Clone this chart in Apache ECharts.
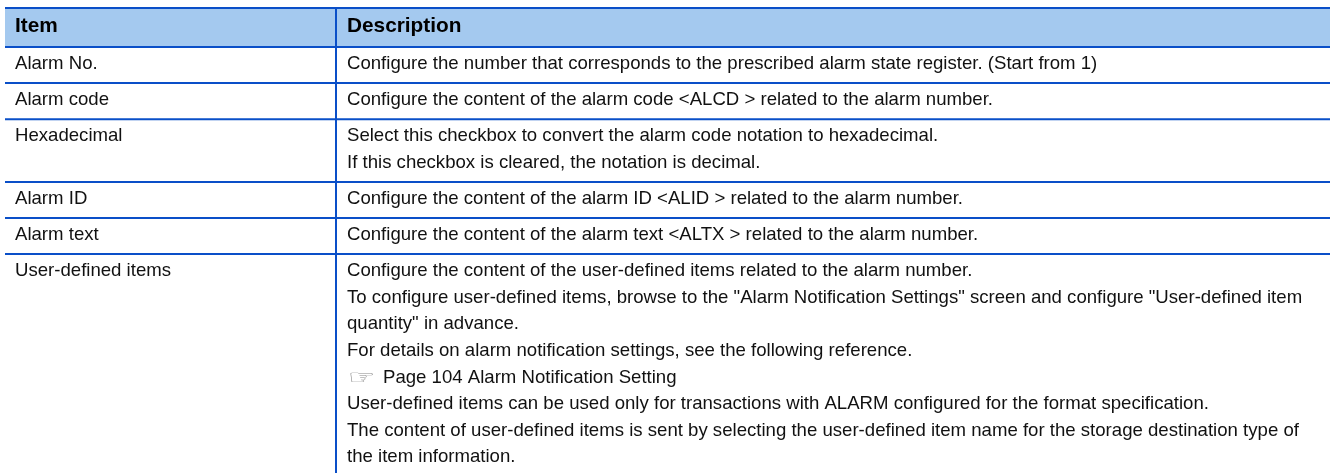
<!DOCTYPE html>
<html><head><meta charset="utf-8">
<script src="https://cdn.jsdelivr.net/npm/echarts@6/dist/echarts.min.js"></script>
<style>html,body{margin:0;padding:0;background:#fff}#c{width:1330px;height:473px}</style>
</head><body><div id="c"></div>
<script>
const headers = ['Item', 'Description'];
const items = ['Alarm No.', 'Alarm code', 'Hexadecimal', 'Alarm ID', 'Alarm text', 'User-defined items'];
const descriptions = [
  ['Configure the number that corresponds to the prescribed alarm state register. (Start from 1)'],
  ['Configure the content of the alarm code <ALCD > related to the alarm number.'],
  ['Select this checkbox to convert the alarm code notation to hexadecimal.',
   'If this checkbox is cleared, the notation is decimal.'],
  ['Configure the content of the alarm ID <ALID > related to the alarm number.'],
  ['Configure the content of the alarm text <ALTX > related to the alarm number.'],
  ['Configure the content of the user-defined items related to the alarm number.',
   'To configure user-defined items, browse to the "Alarm Notification Settings" screen and configure "User-defined item',
   'quantity" in advance.',
   'For details on alarm notification settings, see the following reference.',
   '\u261E Page 104 Alarm Notification Setting',
   'User-defined items can be used only for transactions with ALARM configured for the format specification.',
   'The content of user-defined items is sent by selecting the user-defined item name for the storage destination type of',
   'the item information.']
];

// layout (table units = px)
const TABLE_W = 1325, DIVIDER = 331, PAD_L = 10, PAD_L2 = 11;
const HEADER_H = 39, LINE_H = 26.6, ROW_PAD = 9.5;
const BORDER = '#0a4fc8', HEAD_FILL = '#a4c9ef', TEXT = '#111';
const FONT = '"Liberation Sans", Arial, sans-serif';

const rows = [];
let y = 0;
rows.push([0, y, y + HEADER_H]); y += HEADER_H;
descriptions.forEach((d, i) => { const h = ROW_PAD + d.length * LINE_H; rows.push([i + 1, y, y + h]); y += h; });
const TOTAL = y;

function renderItem(params, api) {
  const idx = api.value(0), top = api.value(1), bot = api.value(2);
  const p0 = api.coord([0, top]), p1 = api.coord([TABLE_W, bot]);
  const xd = api.coord([DIVIDER, 0])[0];
  const xt1 = api.coord([PAD_L, 0])[0], xt2 = api.coord([DIVIDER + PAD_L2, 0])[0];
  const ch = [];
  const ln = (x1, y1, x2, y2) => ({ type: 'line', shape: { x1, y1, x2, y2 }, style: { stroke: BORDER, lineWidth: 2 } });
  if (idx === 0) {
    ch.push({ type: 'rect', shape: { x: p0[0], y: p0[1], width: p1[0] - p0[0], height: p1[1] - p0[1] }, style: { fill: HEAD_FILL } });
    ch.push(ln(p0[0], p0[1], p1[0], p0[1]));
    const ty = p0[1] + 18.3;
    [[xt1, headers[0]], [xt2, headers[1]]].forEach(([x, t]) => ch.push({ type: 'text', x: x, y: ty,
      style: { text: t, fill: '#000', font: 'bold 20.8px ' + FONT, textAlign: 'left', verticalAlign: 'middle' } }));
  } else {
    const body = 'normal 18.6px ' + FONT;
    ch.push({ type: 'text', x: xt1, y: p0[1] + 16.9,
      style: { text: items[idx - 1], fill: TEXT, font: body, textAlign: 'left', verticalAlign: 'middle' } });
    descriptions[idx - 1].forEach((line, k) => {
      const ly = p0[1] + 16.9 + k * LINE_H;
      if (line.charAt(0) === '\u261E') {
        ch.push({ type: 'text', x: xt2 + 1, y: ly + 1, scaleX: 1.55,
          style: { text: '\u261E', fill: '#8a8a8a', font: 'normal 20px "DejaVu Sans"', textAlign: 'left', verticalAlign: 'middle' } });
        ch.push({ type: 'text', x: xt2 + 36, y: ly,
          style: { text: line.slice(2), fill: TEXT, font: body, textAlign: 'left', verticalAlign: 'middle' } });
      } else {
        ch.push({ type: 'text', x: xt2, y: ly,
          style: { text: line, fill: TEXT, font: body, textAlign: 'left', verticalAlign: 'middle' } });
      }
    });
  }
  ch.push(ln(p0[0], p1[1], p1[0], p1[1]));
  ch.push(ln(xd, p0[1], xd, p1[1]));
  return { type: 'group', children: ch };
}

const chart = echarts.init(document.getElementById('c'), null, { renderer: 'canvas' });
chart.setOption({
  animation: false,
  backgroundColor: '#fff',
  grid: { left: 5, top: 8, width: TABLE_W, height: TOTAL, containLabel: false, outerBoundsMode: 'none' },
  xAxis: { type: 'value', min: 0, max: TABLE_W, show: false },
  yAxis: { type: 'value', min: 0, max: TOTAL, inverse: true, show: false },
  series: [{ type: 'custom', coordinateSystem: 'cartesian2d', renderItem: renderItem, data: rows, clip: false }]
});
</script>
</body></html>
